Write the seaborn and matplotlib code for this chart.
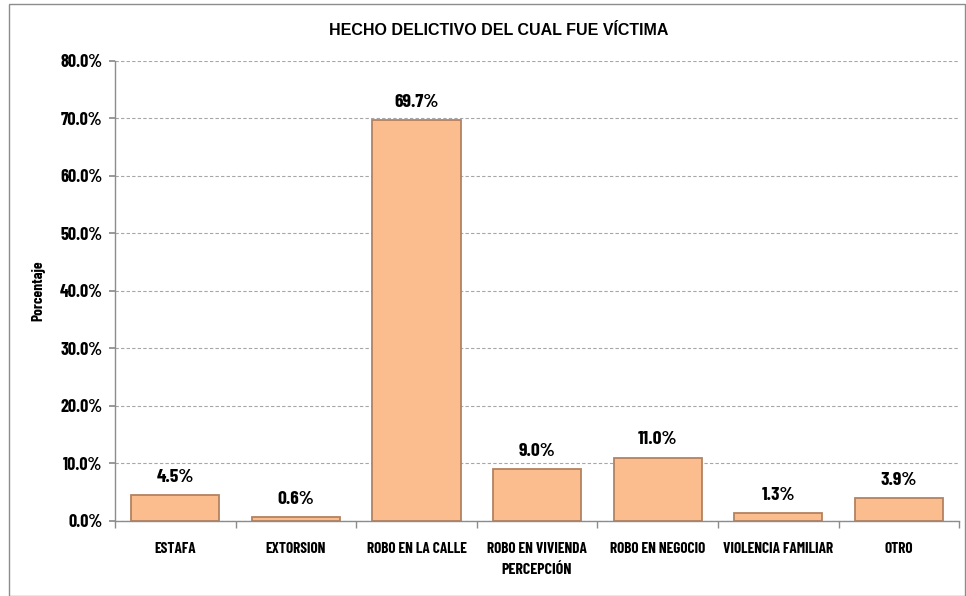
import matplotlib
matplotlib.use("Agg")
import matplotlib.pyplot as plt
import seaborn as sns
import pandas as pd
import numpy as np
from matplotlib.ticker import FuncFormatter, FixedLocator
from matplotlib.patches import Rectangle

categories = ["ESTAFA", "EXTORSION", "ROBO EN LA CALLE", "ROBO EN VIVIENDA",
              "ROBO EN NEGOCIO", "VIOLENCIA FAMILIAR", "OTRO"]
values = [4.5, 0.6, 69.7, 9.0, 11.0, 1.3, 3.9]
yticks = [0, 10, 20, 30, 40, 50, 60, 70, 80]

sns.set_theme(style="white")
COND = ['Barlow Condensed', 'Barlow Semi Condensed', 'Archivo Narrow', 'DejaVu Sans']
plt.rcParams['font.family'] = COND
plt.rcParams['text.color'] = '#000000'
plt.rcParams['axes.labelcolor'] = '#000000'
plt.rcParams['xtick.color'] = '#000000'
plt.rcParams['ytick.color'] = '#000000'

df = pd.DataFrame({"cat": categories, "val": values})

fig = plt.figure(figsize=(9.66, 5.96), dpi=100)
ax = fig.add_axes([0.119, 0.126, 0.874, 0.772])

sns.barplot(data=df, x="cat", y="val", color="#FBBD8E", width=0.73,
            edgecolor="#B48260", linewidth=1.3, saturation=1, ax=ax)

ax.set_ylim(0, 80)
ax.set_xlim(-0.5, len(categories) - 0.5)
ax.yaxis.set_major_locator(FixedLocator(yticks))
ax.yaxis.set_major_formatter(FuncFormatter(lambda v, p: f"{v:.1f}%"))
ax.grid(axis="y", color="#A6A6A6", linestyle=(0, (3, 2)), linewidth=0.8)
ax.set_axisbelow(True)

for s in ["top", "right"]:
    ax.spines[s].set_visible(False)
for s in ["left", "bottom"]:
    ax.spines[s].set_color("#8C8C8C")
    ax.spines[s].set_linewidth(1.0)

ax.tick_params(axis="y", left=True, length=4, color="#8C8C8C", labelsize=13, pad=5)
ax.tick_params(axis="x", bottom=False, labelsize=11, pad=9)
ax.set_xticks(np.arange(-0.5, len(categories), 1.0), minor=True)
ax.tick_params(axis="x", which="minor", bottom=True, length=5, color="#8C8C8C")

for lbl in ax.get_yticklabels() + ax.get_xticklabels():
    lbl.set_fontweight("bold")

for i, v in enumerate(values):
    ax.text(i, v + 1.6, f"{v:.1f}%", ha="center", va="bottom",
            fontsize=14, fontweight="bold", color="#000000")

ax.set_xlabel("PERCEPCIÓN", fontsize=11.5, fontweight="bold", labelpad=5)
ax.set_ylabel("Porcentaje", fontsize=11, fontweight="bold")
ax.yaxis.set_label_coords(-0.083, 0.5)
fig.text(0.516, 0.948, "HECHO DELICTIVO DEL CUAL FUE VÍCTIMA", ha="center",
         va="center", fontsize=11.5, fontweight="bold", color="#000000",
         family=["Liberation Sans", "DejaVu Sans"])

fig.patches.append(Rectangle((0.009, 0.0), 0.99, 0.993, transform=fig.transFigure,
                             fill=False, edgecolor="#8C8C8C", linewidth=1.0))

fig.savefig("out.png", dpi=100)
